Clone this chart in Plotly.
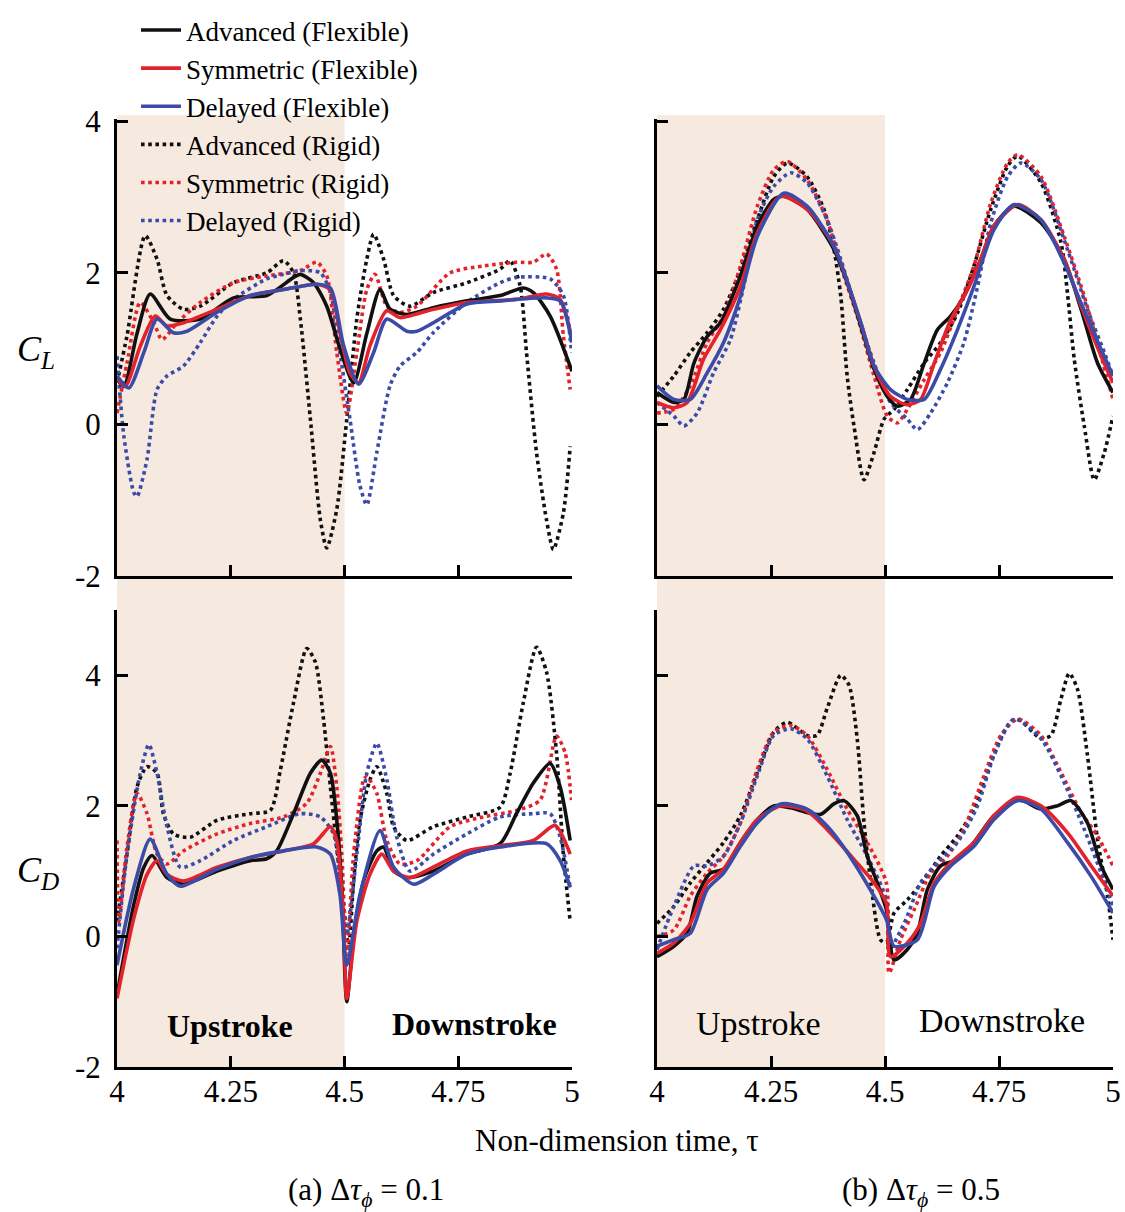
import plotly.graph_objects as go

# ---------------- data: CL, (a) dtau = 0.1 ----------------
t_cla_adv_flex = [4.000, 4.015, 4.044, 4.073, 4.117, 4.183, 4.256, 4.329, 4.388, 4.403, 4.432, 4.461, 4.490, 4.520, 4.549, 4.578, 4.600, 4.637, 4.695, 4.769, 4.842, 4.893, 4.915, 4.952, 5.000]
v_cla_adv_flex = [0.60, 0.50, 1.20, 1.72, 1.39, 1.39, 1.67, 1.70, 1.94, 1.98, 1.87, 1.56, 1.00, 0.55, 1.20, 1.78, 1.52, 1.45, 1.54, 1.63, 1.70, 1.80, 1.74, 1.43, 0.70]
t_cla_sym_flex = [4.000, 4.018, 4.051, 4.084, 4.110, 4.146, 4.220, 4.293, 4.366, 4.439, 4.469, 4.490, 4.512, 4.531, 4.556, 4.593, 4.622, 4.695, 4.769, 4.878, 4.944, 4.974, 5.000]
v_cla_sym_flex = [0.60, 0.50, 1.03, 1.43, 1.30, 1.34, 1.52, 1.70, 1.78, 1.85, 1.78, 1.21, 0.68, 0.55, 1.04, 1.50, 1.41, 1.52, 1.61, 1.65, 1.72, 1.65, 1.12]
t_cla_del_flex = [4.000, 4.026, 4.059, 4.088, 4.124, 4.154, 4.220, 4.293, 4.366, 4.439, 4.469, 4.498, 4.531, 4.564, 4.593, 4.637, 4.659, 4.695, 4.769, 4.842, 4.944, 4.974, 5.000]
v_cla_del_flex = [0.64, 0.48, 0.95, 1.39, 1.21, 1.23, 1.48, 1.70, 1.78, 1.85, 1.80, 1.04, 0.53, 0.95, 1.39, 1.23, 1.23, 1.34, 1.59, 1.63, 1.67, 1.63, 1.08]
t_cla_adv_rig = [4.000, 4.022, 4.062, 4.088, 4.110, 4.146, 4.183, 4.256, 4.329, 4.366, 4.388, 4.403, 4.425, 4.447, 4.461, 4.483, 4.505, 4.527, 4.549, 4.564, 4.586, 4.608, 4.644, 4.695, 4.769, 4.842, 4.864, 4.886, 4.900, 4.922, 4.944, 4.959, 4.981, 4.996]
v_cla_adv_rig = [0.55, 1.17, 2.49, 2.18, 1.70, 1.52, 1.56, 1.87, 2.00, 2.16, 2.00, 1.39, 0.07, -1.26, -1.63, -1.12, 0.07, 1.39, 2.18, 2.51, 2.18, 1.70, 1.56, 1.74, 1.87, 2.05, 2.16, 1.83, 0.95, -0.37, -1.26, -1.65, -1.17, -0.29]
t_cla_sym_rig = [4.000, 4.022, 4.051, 4.081, 4.099, 4.132, 4.183, 4.256, 4.329, 4.403, 4.439, 4.461, 4.483, 4.505, 4.527, 4.549, 4.567, 4.593, 4.622, 4.659, 4.732, 4.805, 4.878, 4.915, 4.944, 4.966, 4.981, 4.996]
v_cla_sym_rig = [0.15, 0.81, 1.61, 1.34, 1.12, 1.34, 1.61, 1.87, 1.96, 2.03, 2.14, 1.96, 0.95, 0.15, 0.95, 1.78, 1.98, 1.56, 1.48, 1.56, 2.00, 2.09, 2.14, 2.14, 2.25, 2.05, 1.17, 0.46]
t_cla_del_rig = [4.000, 4.015, 4.037, 4.044, 4.066, 4.088, 4.110, 4.146, 4.183, 4.220, 4.256, 4.329, 4.366, 4.403, 4.447, 4.469, 4.490, 4.512, 4.534, 4.549, 4.571, 4.600, 4.622, 4.659, 4.695, 4.769, 4.842, 4.878, 4.952, 4.981, 4.999]
v_cla_del_rig = [0.90, -0.15, -0.90, -0.95, -0.46, 0.46, 0.64, 0.77, 1.08, 1.43, 1.65, 1.92, 1.98, 2.03, 2.00, 1.74, 0.95, 0.07, -0.81, -1.06, -0.37, 0.51, 0.77, 0.95, 1.21, 1.61, 1.87, 1.94, 1.92, 1.70, 0.95]

# ---------------- data: CL, (b) dtau = 0.5 ----------------
t_clb_adv_flex = [4.000, 4.037, 4.059, 4.081, 4.110, 4.139, 4.183, 4.220, 4.256, 4.278, 4.329, 4.388, 4.417, 4.447, 4.476, 4.505, 4.527, 4.556, 4.586, 4.615, 4.644, 4.673, 4.710, 4.739, 4.783, 4.842, 4.893, 4.930, 4.966, 5.000]
v_clb_adv_flex = [0.42, 0.29, 0.33, 0.81, 1.16, 1.34, 1.96, 2.62, 2.97, 3.01, 2.84, 2.31, 1.87, 1.30, 0.73, 0.37, 0.24, 0.33, 0.81, 1.25, 1.43, 1.69, 2.18, 2.62, 2.88, 2.66, 2.18, 1.52, 0.81, 0.42]
t_clb_sym_flex = [4.000, 4.037, 4.066, 4.102, 4.139, 4.183, 4.220, 4.271, 4.329, 4.388, 4.447, 4.476, 4.512, 4.549, 4.578, 4.608, 4.644, 4.681, 4.710, 4.739, 4.791, 4.842, 4.893, 4.930, 4.974, 5.000]
v_clb_sym_flex = [0.29, 0.22, 0.29, 0.86, 1.25, 1.82, 2.53, 3.01, 2.84, 2.35, 1.34, 0.77, 0.37, 0.26, 0.33, 0.81, 1.38, 1.78, 2.18, 2.62, 2.90, 2.70, 2.18, 1.56, 0.90, 0.55]
t_clb_del_flex = [4.000, 4.037, 4.073, 4.110, 4.146, 4.183, 4.220, 4.278, 4.329, 4.388, 4.447, 4.476, 4.512, 4.549, 4.586, 4.622, 4.659, 4.695, 4.739, 4.783, 4.842, 4.893, 4.930, 4.974, 5.000]
v_clb_del_flex = [0.51, 0.33, 0.33, 0.68, 1.08, 1.69, 2.48, 3.05, 2.88, 2.35, 1.34, 0.77, 0.46, 0.33, 0.33, 0.73, 1.25, 1.82, 2.57, 2.90, 2.70, 2.13, 1.60, 0.99, 0.64]
t_clb_adv_rig = [4.000, 4.037, 4.073, 4.110, 4.146, 4.183, 4.220, 4.256, 4.286, 4.329, 4.366, 4.388, 4.403, 4.417, 4.432, 4.454, 4.476, 4.498, 4.520, 4.549, 4.586, 4.622, 4.659, 4.695, 4.732, 4.769, 4.791, 4.842, 4.886, 4.900, 4.915, 4.937, 4.959, 4.981, 5.000]
v_clb_adv_rig = [0.37, 0.64, 0.95, 1.21, 1.52, 2.04, 2.70, 3.27, 3.45, 3.27, 2.84, 2.31, 1.69, 0.64, -0.02, -0.73, -0.37, 0.07, 0.20, 0.46, 0.81, 1.08, 1.47, 2.09, 2.84, 3.41, 3.54, 3.19, 2.40, 1.74, 0.86, -0.02, -0.73, -0.37, 0.11]
t_clb_sym_rig = [4.000, 4.037, 4.073, 4.110, 4.146, 4.183, 4.220, 4.256, 4.286, 4.329, 4.373, 4.403, 4.439, 4.476, 4.505, 4.527, 4.549, 4.586, 4.622, 4.659, 4.695, 4.732, 4.769, 4.791, 4.842, 4.893, 4.937, 4.974, 5.000]
v_clb_sym_rig = [0.15, 0.20, 0.51, 1.08, 1.43, 2.09, 2.88, 3.36, 3.47, 3.23, 2.70, 2.09, 1.43, 0.64, 0.11, 0.02, 0.20, 0.59, 0.95, 1.52, 2.09, 2.92, 3.45, 3.56, 3.27, 2.48, 1.69, 0.90, 0.33]
t_clb_del_rig = [4.000, 4.037, 4.059, 4.088, 4.124, 4.161, 4.190, 4.220, 4.256, 4.293, 4.329, 4.373, 4.403, 4.439, 4.476, 4.512, 4.549, 4.571, 4.600, 4.637, 4.673, 4.703, 4.732, 4.769, 4.798, 4.842, 4.900, 4.944, 4.981, 5.000]
v_clb_del_rig = [0.29, 0.11, -0.02, 0.15, 0.68, 1.12, 1.82, 2.70, 3.14, 3.32, 3.19, 2.70, 2.18, 1.47, 0.81, 0.29, 0.07, -0.07, 0.15, 0.55, 1.08, 1.82, 2.66, 3.27, 3.45, 3.23, 2.31, 1.52, 0.95, 0.64]

# ---------------- data: CD, (a) dtau = 0.1 ----------------
t_cda_adv_flex = [4.000, 4.037, 4.059, 4.077, 4.110, 4.146, 4.220, 4.293, 4.329, 4.351, 4.388, 4.425, 4.450, 4.469, 4.483, 4.494, 4.505, 4.520, 4.542, 4.571, 4.586, 4.608, 4.637, 4.695, 4.769, 4.842, 4.878, 4.915, 4.952, 4.974, 4.996]
v_cda_adv_flex = [-0.90, 0.49, 1.06, 1.24, 0.90, 0.80, 1.00, 1.16, 1.19, 1.31, 1.88, 2.50, 2.70, 2.50, 1.78, 0.75, -1.00, -0.03, 0.85, 1.31, 1.37, 1.00, 0.90, 1.00, 1.26, 1.42, 1.88, 2.35, 2.65, 2.29, 1.47]
t_cda_sym_flex = [4.000, 4.037, 4.066, 4.088, 4.110, 4.146, 4.220, 4.293, 4.366, 4.432, 4.469, 4.483, 4.498, 4.505, 4.527, 4.556, 4.582, 4.608, 4.644, 4.695, 4.769, 4.842, 4.915, 4.963, 4.996]
v_cda_sym_flex = [-0.95, 0.28, 0.95, 1.16, 0.95, 0.85, 1.06, 1.21, 1.31, 1.42, 1.68, 1.47, 0.23, -0.95, 0.23, 0.95, 1.26, 1.00, 0.90, 1.06, 1.31, 1.39, 1.47, 1.70, 1.26]
t_cda_del_flex = [4.000, 4.037, 4.073, 4.110, 4.139, 4.220, 4.293, 4.366, 4.439, 4.469, 4.490, 4.505, 4.534, 4.578, 4.608, 4.652, 4.695, 4.769, 4.842, 4.944, 4.974, 4.996]
v_cda_del_flex = [-0.44, 0.75, 1.49, 0.95, 0.77, 1.03, 1.21, 1.31, 1.37, 1.26, 0.64, -0.44, 0.64, 1.62, 1.06, 0.80, 0.95, 1.26, 1.37, 1.42, 1.16, 0.75]
t_cda_adv_rig = [4.000, 4.022, 4.044, 4.066, 4.088, 4.102, 4.124, 4.161, 4.220, 4.293, 4.337, 4.359, 4.388, 4.417, 4.436, 4.454, 4.469, 4.483, 4.498, 4.509, 4.520, 4.534, 4.556, 4.571, 4.593, 4.608, 4.637, 4.695, 4.769, 4.842, 4.864, 4.893, 4.922, 4.944, 4.966, 4.981, 4.996]
v_cda_adv_rig = [0.23, 1.26, 2.29, 2.60, 2.50, 1.88, 1.57, 1.52, 1.78, 1.88, 1.93, 2.55, 3.58, 4.41, 4.20, 3.32, 2.29, 1.37, 0.49, -0.18, 0.85, 1.78, 2.40, 2.60, 2.19, 1.68, 1.47, 1.68, 1.83, 1.98, 2.50, 3.58, 4.43, 4.05, 2.81, 1.26, 0.23]
t_cda_sym_rig = [4.000, 4.004, 4.022, 4.044, 4.066, 4.088, 4.110, 4.146, 4.220, 4.293, 4.366, 4.417, 4.447, 4.469, 4.483, 4.494, 4.505, 4.520, 4.542, 4.549, 4.571, 4.593, 4.622, 4.659, 4.732, 4.805, 4.878, 4.930, 4.966, 4.985, 4.999]
v_cda_sym_rig = [1.47, 0.23, 1.37, 2.19, 1.88, 1.26, 1.11, 1.31, 1.57, 1.73, 1.83, 2.04, 2.50, 2.91, 2.29, 1.26, -0.28, 1.26, 2.40, 2.45, 2.19, 1.47, 1.11, 1.16, 1.68, 1.83, 1.93, 2.09, 3.07, 2.81, 2.09]
t_cda_del_rig = [4.000, 4.022, 4.051, 4.070, 4.088, 4.110, 4.139, 4.183, 4.256, 4.329, 4.403, 4.447, 4.476, 4.490, 4.505, 4.527, 4.549, 4.571, 4.593, 4.615, 4.644, 4.695, 4.769, 4.842, 4.915, 4.952, 4.974, 4.996]
v_cda_del_rig = [-0.18, 1.26, 2.50, 2.94, 2.50, 1.68, 1.06, 1.16, 1.47, 1.68, 1.88, 1.83, 1.57, 0.85, 0.03, 1.26, 2.50, 2.96, 2.40, 1.52, 1.00, 1.26, 1.57, 1.83, 1.88, 1.88, 1.52, 0.75]

# ---------------- data: CD, (b) dtau = 0.5 ----------------
t_cdb_adv_flex = [4.000, 4.037, 4.066, 4.088, 4.117, 4.146, 4.183, 4.220, 4.256, 4.293, 4.329, 4.359, 4.388, 4.410, 4.439, 4.461, 4.483, 4.503, 4.520, 4.549, 4.571, 4.593, 4.622, 4.659, 4.695, 4.739, 4.791, 4.842, 4.878, 4.908, 4.944, 4.974, 5.000]
v_cdb_adv_flex = [-0.31, -0.15, 0.05, 0.62, 0.97, 1.03, 1.44, 1.79, 2.00, 1.97, 1.90, 1.87, 2.03, 2.08, 1.85, 1.23, 0.82, 0.41, -0.36, -0.20, 0.05, 0.72, 1.08, 1.18, 1.44, 1.85, 2.10, 1.95, 2.00, 2.08, 1.74, 1.08, 0.72]
t_cdb_sym_flex = [4.000, 4.037, 4.073, 4.110, 4.146, 4.183, 4.220, 4.271, 4.329, 4.373, 4.432, 4.476, 4.503, 4.512, 4.549, 4.578, 4.608, 4.644, 4.695, 4.739, 4.791, 4.842, 4.900, 4.952, 5.000]
v_cdb_sym_flex = [-0.26, -0.10, 0.20, 0.82, 1.03, 1.44, 1.79, 2.00, 1.92, 1.64, 1.18, 0.82, 0.51, -0.31, -0.10, 0.20, 0.82, 1.13, 1.44, 1.85, 2.13, 2.00, 1.59, 1.08, 0.62]
t_cdb_del_flex = [4.000, 4.037, 4.073, 4.110, 4.146, 4.183, 4.220, 4.271, 4.329, 4.373, 4.432, 4.503, 4.520, 4.571, 4.608, 4.644, 4.695, 4.739, 4.791, 4.842, 4.900, 4.952, 5.000]
v_cdb_del_flex = [-0.15, -0.05, 0.05, 0.72, 0.97, 1.38, 1.74, 2.03, 1.95, 1.69, 1.13, 0.26, -0.15, -0.05, 0.77, 1.08, 1.38, 1.79, 2.08, 1.95, 1.44, 0.92, 0.36]
t_cdb_adv_rig = [4.000, 4.037, 4.073, 4.110, 4.146, 4.183, 4.220, 4.256, 4.286, 4.329, 4.351, 4.373, 4.403, 4.421, 4.439, 4.454, 4.469, 4.490, 4.503, 4.520, 4.549, 4.586, 4.622, 4.659, 4.695, 4.732, 4.769, 4.791, 4.842, 4.864, 4.886, 4.904, 4.922, 4.944, 4.966, 4.988, 5.000]
v_cdb_adv_rig = [0.20, 0.46, 0.82, 1.13, 1.44, 1.85, 2.51, 3.13, 3.28, 3.08, 3.08, 3.49, 4.00, 3.85, 3.03, 1.74, 0.82, -0.05, -0.10, 0.36, 0.56, 0.87, 1.23, 1.54, 1.95, 2.67, 3.23, 3.33, 3.03, 3.08, 3.64, 4.03, 3.79, 2.77, 1.49, 0.62, -0.05]
t_cdb_sym_rig = [4.000, 4.037, 4.073, 4.110, 4.146, 4.183, 4.220, 4.256, 4.293, 4.329, 4.373, 4.417, 4.461, 4.503, 4.509, 4.534, 4.564, 4.600, 4.637, 4.673, 4.717, 4.754, 4.791, 4.842, 4.886, 4.930, 4.966, 5.000]
v_cdb_sym_rig = [0.00, 0.10, 0.62, 0.97, 1.23, 1.74, 2.56, 3.13, 3.23, 3.08, 2.56, 1.95, 1.44, 0.82, -0.56, -0.05, 0.41, 0.97, 1.23, 1.64, 2.46, 3.08, 3.33, 3.08, 2.51, 1.90, 1.54, 1.08]
t_cdb_del_rig = [4.000, 4.037, 4.081, 4.110, 4.146, 4.183, 4.220, 4.256, 4.293, 4.329, 4.373, 4.417, 4.461, 4.503, 4.509, 4.542, 4.578, 4.615, 4.659, 4.703, 4.739, 4.783, 4.842, 4.886, 4.937, 4.974, 5.000]
v_cdb_del_rig = [-0.20, 0.46, 1.08, 1.08, 1.23, 1.74, 2.46, 3.08, 3.18, 3.03, 2.46, 1.79, 1.23, 0.56, -0.20, 0.20, 0.82, 1.13, 1.44, 2.00, 2.77, 3.33, 3.03, 2.46, 1.64, 0.97, 0.46]

series_names = ["Advanced (Flexible)", "Symmetric (Flexible)", "Delayed (Flexible)",
                "Advanced (Rigid)", "Symmetric (Rigid)", "Delayed (Rigid)"]
x_tick_vals = [4, 4.25, 4.5, 4.75, 5]
x_tick_text = ["4", "4.25", "4.5", "4.75", "5"]
y_tick_vals = [-2, 0, 2, 4]
y_tick_text = ["-2", "0", "2", "4"]

# ---------------- styling ----------------
BLACK = "#111111"
RED = "#E4222B"
BLUE = "#3B4CA8"
SHADE = "#F6E9DF"
FONT = "Liberation Serif"
colors = [BLACK, RED, BLUE, BLACK, RED, BLUE]
dashes = ["solid", "solid", "solid", "dot", "dot", "dot"]

panels = [
    ("x", "y", [(t_cla_adv_flex, v_cla_adv_flex), (t_cla_sym_flex, v_cla_sym_flex), (t_cla_del_flex, v_cla_del_flex),
                (t_cla_adv_rig, v_cla_adv_rig), (t_cla_sym_rig, v_cla_sym_rig), (t_cla_del_rig, v_cla_del_rig)]),
    ("x2", "y2", [(t_clb_adv_flex, v_clb_adv_flex), (t_clb_sym_flex, v_clb_sym_flex), (t_clb_del_flex, v_clb_del_flex),
                  (t_clb_adv_rig, v_clb_adv_rig), (t_clb_sym_rig, v_clb_sym_rig), (t_clb_del_rig, v_clb_del_rig)]),
    ("x3", "y3", [(t_cda_adv_flex, v_cda_adv_flex), (t_cda_sym_flex, v_cda_sym_flex), (t_cda_del_flex, v_cda_del_flex),
                  (t_cda_adv_rig, v_cda_adv_rig), (t_cda_sym_rig, v_cda_sym_rig), (t_cda_del_rig, v_cda_del_rig)]),
    ("x4", "y4", [(t_cdb_adv_flex, v_cdb_adv_flex), (t_cdb_sym_flex, v_cdb_sym_flex), (t_cdb_del_flex, v_cdb_del_flex),
                  (t_cdb_adv_rig, v_cdb_adv_rig), (t_cdb_sym_rig, v_cdb_sym_rig), (t_cdb_del_rig, v_cdb_del_rig)]),
]

fig = go.Figure()
for p, (xa, ya, data) in enumerate(panels):
    # rigid (dotted) drawn first, flexible on top
    for i in [3, 4, 5, 0, 1, 2]:
        t, v = data[i]
        fig.add_trace(go.Scatter(
            x=t, y=v, mode="lines", xaxis=xa, yaxis=ya,
            name=series_names[i], legendrank=i + 1,
            showlegend=(p == 0),
            line=dict(color=colors[i], width=3.6, dash=dashes[i],
                      shape="spline", smoothing=0.7),
        ))

W, H = 1125, 1212
def px_x(x): return x / W
def px_y(y): return 1 - y / H

xL = [px_x(117), px_x(572)]
xR = [px_x(657), px_x(1113)]
yT = [px_y(576), px_y(119)]
yB = [px_y(1067), px_y(610)]

axis_common = dict(showline=True, linecolor="black", linewidth=3, ticks="inside",
                   ticklen=11, tickwidth=3, tickcolor="black", showgrid=False, zeroline=False,
                   tickfont=dict(family=FONT, size=31, color="black"), mirror=False,
                   automargin=False)

def xax(domain, anchor, labels):
    d = dict(axis_common)
    d.update(domain=domain, anchor=anchor, range=[4, 5], tickmode="array",
             tickvals=x_tick_vals, ticktext=x_tick_text, showticklabels=labels,
             ticklabelstandoff=-5)
    return d

def yax(domain, anchor, rng, labels):
    d = dict(axis_common)
    d.update(domain=domain, anchor=anchor, range=rng, tickmode="array",
             tickvals=y_tick_vals, ticktext=y_tick_text, showticklabels=labels,
             ticklabelstandoff=7)
    return d

fig.update_layout(
    width=W, height=H,
    margin=dict(l=0, r=0, t=0, b=0, pad=0, autoexpand=False),
    paper_bgcolor="white", plot_bgcolor="rgba(0,0,0,0)",
    font=dict(family=FONT, color="black"),
    xaxis=xax(xL, "y", False), yaxis=yax(yT, "x", [-2, 4.03], True),
    xaxis2=xax(xR, "y2", False), yaxis2=yax(yT, "x2", [-2, 4.03], False),
    xaxis3=xax(xL, "y3", True), yaxis3=yax(yB, "x3", [-2, 5], True),
    xaxis4=xax(xR, "y4", True), yaxis4=yax(yB, "x4", [-2, 5], False),
    legend=dict(x=px_x(136), y=px_y(6), xanchor="left", yanchor="top",
                bgcolor="rgba(0,0,0,0)", font=dict(family=FONT, size=27, color="black"),
                tracegroupgap=0, itemwidth=40, traceorder="normal"),
)

# shaded upstroke regions
for xr in ["x", "x2"]:
    fig.add_shape(type="rect", xref=xr, yref="paper", x0=4, x1=4.5,
                  y0=px_y(1067), y1=px_y(115), fillcolor=SHADE, line_width=0, layer="below")

ann = []
ann.append(dict(x=px_x(36), y=px_y(352), text="<i>C</i><sub><i>L</i></sub>", font=dict(size=36)))
ann.append(dict(x=px_x(38), y=px_y(872), text="<i>C</i><sub><i>D</i></sub>", font=dict(size=36)))
ann.append(dict(x=px_x(230), y=px_y(1026), text="<b>Upstroke</b>", font=dict(size=32)))
ann.append(dict(x=px_x(474), y=px_y(1024), text="<b>Downstroke</b>", font=dict(size=32)))
ann.append(dict(x=px_x(758), y=px_y(1023), text="Upstroke", font=dict(size=34)))
ann.append(dict(x=px_x(1002), y=px_y(1020), text="Downstroke", font=dict(size=34)))
ann.append(dict(x=px_x(617), y=px_y(1140), text="Non-dimension time, τ", font=dict(size=31)))
ann.append(dict(x=px_x(366), y=px_y(1192), text="(a) Δ<i>τ</i><sub><i>ϕ</i></sub> = 0.1", font=dict(size=31)))
ann.append(dict(x=px_x(921), y=px_y(1192), text="(b) Δ<i>τ</i><sub><i>ϕ</i></sub> = 0.5", font=dict(size=31)))
for a in ann:
    a.update(xref="paper", yref="paper", showarrow=False, xanchor="center", yanchor="middle")
    a["font"].update(family=FONT, color="black")
    fig.add_annotation(**a)

fig.write_html("out.html", config={"displayModeBar": False},
               post_script="document.body.style.margin='0';document.body.style.padding='0';"
                           "document.documentElement.style.overflow='hidden';")
